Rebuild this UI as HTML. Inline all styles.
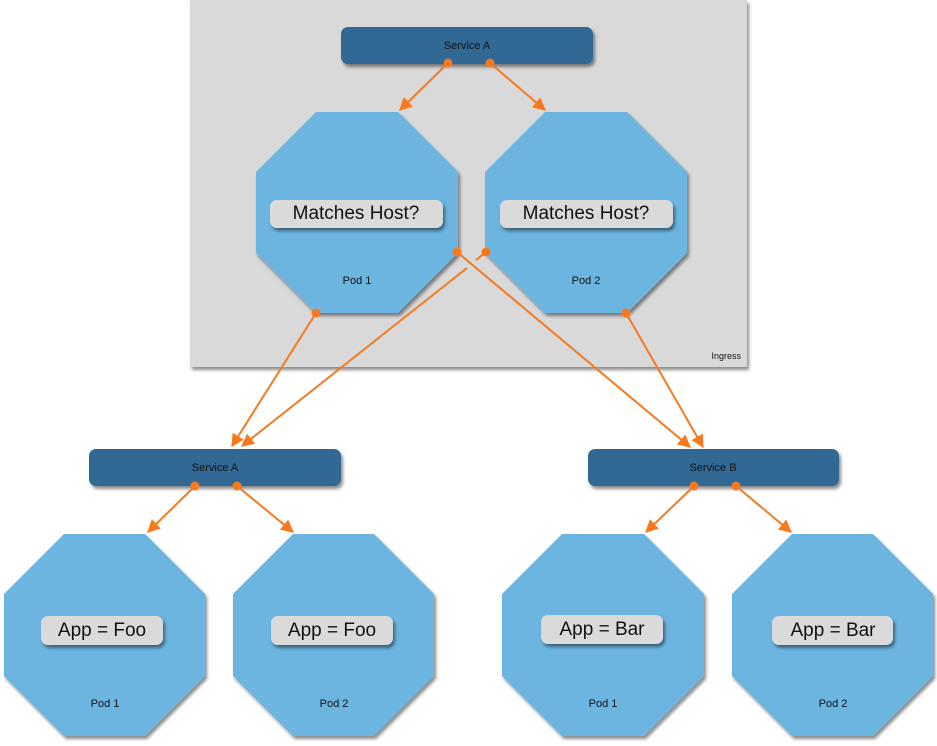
<!DOCTYPE html>
<html><head><style>
html,body{margin:0;padding:0;background:#fff;}
svg text{font-family:"Liberation Sans",sans-serif;}
</style></head><body>
<svg width="937" height="741" viewBox="0 0 937 741" xmlns="http://www.w3.org/2000/svg">
<defs>
<filter id="sh" x="-10%" y="-10%" width="130%" height="130%">
<feDropShadow dx="2" dy="3" stdDeviation="1.5" flood-color="#000" flood-opacity="0.45"/>
</filter>
<marker id="ar" viewBox="0 0 10 10" refX="9" refY="5" markerWidth="6.5" markerHeight="6.5" orient="auto">
<path d="M0,0 L10,5 L0,10 z" fill="#f57a1f"/>
</marker>
</defs>
<rect x="190" y="0" width="557" height="367" fill="#d9d9d9" filter="url(#sh)"/>
<text x="741" y="359" font-size="9" text-anchor="end" fill="#111">Ingress</text>

<g>
<rect x="341" y="27" width="252" height="37" rx="7" fill="#326894" filter="url(#sh)"/>
<text x="467" y="49" font-size="11" text-anchor="middle" fill="#111">Service A</text>
<rect x="89" y="449" width="252" height="37" rx="7" fill="#326894" filter="url(#sh)"/>
<text x="215" y="471" font-size="11" text-anchor="middle" fill="#111">Service A</text>
<rect x="588" y="449" width="251" height="37" rx="7" fill="#326894" filter="url(#sh)"/>
<text x="713" y="471" font-size="11" text-anchor="middle" fill="#111">Service B</text>
</g>

<g fill="#6cb5e1" filter="url(#sh)">
<polygon points="316,112 398,112 458,172 458,253 398,313 316,313 256,253 256,172"/>
<polygon points="545,112 627,112 687,172 687,253 627,313 545,313 485,253 485,172"/>
<polygon points="64,534 145,534 205,594 205,676 145,736 64,736 4,676 4,594"/>
<polygon points="293,534 374,534 434,594 434,676 374,736 293,736 233,676 233,594"/>
<polygon points="562,534 644,534 704,594 704,676 644,736 562,736 502,676 502,594"/>
<polygon points="792,534 873,534 933,594 933,676 873,736 792,736 732,676 732,594"/>
</g>

<g fill="#dadada" filter="url(#sh)">
<rect x="270" y="200" width="173" height="28" rx="7"/>
<rect x="500" y="200" width="173" height="28" rx="7"/>
<rect x="41" y="616" width="122" height="29" rx="7"/>
<rect x="271" y="616" width="122" height="29" rx="7"/>
<rect x="541" y="615" width="122" height="29" rx="7"/>
<rect x="772" y="616" width="121" height="29" rx="7"/>
</g>
<g font-size="19" text-anchor="middle" fill="#111">
<text x="356" y="219">Matches Host?</text>
<text x="586" y="219">Matches Host?</text>
<text x="102" y="636">App = Foo</text>
<text x="332" y="636">App = Foo</text>
<text x="602" y="635">App = Bar</text>
<text x="833" y="636">App = Bar</text>
</g>
<g font-size="11" text-anchor="middle" fill="#111">
<text x="357" y="284">Pod 1</text>
<text x="586" y="284">Pod 2</text>
<text x="105" y="707">Pod 1</text>
<text x="334" y="707">Pod 2</text>
<text x="603" y="707">Pod 1</text>
<text x="833" y="707">Pod 2</text>
</g>

<g stroke="#f57a1f" stroke-width="2" fill="none">
<line x1="448" y1="63" x2="400" y2="110" marker-end="url(#ar)"/>
<line x1="490" y1="63" x2="545" y2="110" marker-end="url(#ar)"/>
<line x1="316" y1="313" x2="232" y2="446" marker-end="url(#ar)"/>
<line x1="457" y1="252" x2="690" y2="447" marker-end="url(#ar)"/>
<line x1="486" y1="252" x2="476" y2="260"/>
<line x1="467" y1="268" x2="242" y2="446" marker-end="url(#ar)"/>
<line x1="626" y1="313" x2="703" y2="447" marker-end="url(#ar)"/>
<line x1="195" y1="486" x2="148" y2="532" marker-end="url(#ar)"/>
<line x1="237" y1="486" x2="293" y2="532" marker-end="url(#ar)"/>
<line x1="694" y1="486" x2="646" y2="532" marker-end="url(#ar)"/>
<line x1="736" y1="486" x2="791" y2="532" marker-end="url(#ar)"/>
</g>
<g fill="#f57a1f">
<circle cx="448" cy="63" r="4.5"/><circle cx="490" cy="63" r="4.5"/>
<circle cx="316" cy="313" r="4.5"/><circle cx="457" cy="252" r="4.5"/>
<circle cx="486" cy="252" r="4.5"/><circle cx="626" cy="313" r="4.5"/>
<circle cx="195" cy="486" r="4.5"/><circle cx="237" cy="486" r="4.5"/>
<circle cx="694" cy="486" r="4.5"/><circle cx="736" cy="486" r="4.5"/>
</g>
</svg>
</body></html>
